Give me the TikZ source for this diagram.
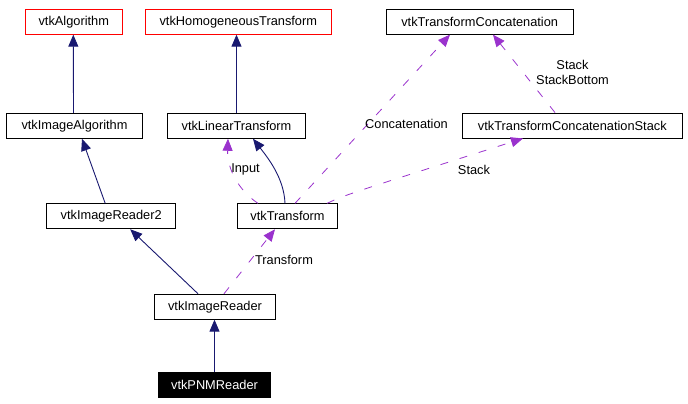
\documentclass[tikz,border=0pt]{standalone}
\usepackage{fontspec}
\setmainfont{Liberation Sans}
\usetikzlibrary{arrows.meta}
\definecolor{edgeblue}{RGB}{25,25,112}
\definecolor{edgepurple}{RGB}{154,50,205}
\begin{document}
\begin{tikzpicture}[x=1pt,y=-1pt,
  cls/.style={draw=black, line width=0.9pt, rectangle, inner sep=0pt, minimum height=25pt, font=\fontsize{12.8}{15}\selectfont},
  ext/.style={cls, draw=red},
  cur/.style={cls, fill=black, text=white},
  inh/.style={draw=edgeblue, line width=0.9pt, -{Triangle[length=12pt,width=10pt]}},
  use/.style={draw=edgepurple, line width=0.8pt, dash pattern=on 8pt off 12pt, -{Triangle[length=12pt,width=10pt]}},
  lbl/.style={inner sep=0pt, font=\fontsize{12.8}{15}\selectfont}]
\useasboundingbox (0,0) rectangle (688,404);
% nodes
\node[ext, minimum width=97.7pt]  (A)   at (73.8,21.7)  {vtkAlgorithm};
\node[ext, minimum width=186.7pt] (HT)  at (238.3,21.7) {vtkHomogeneousTransform};
\node[cls, minimum width=187.3pt] (TC)  at (479.7,21.7) {vtkTransformConcatenation};
\node[cls, minimum width=135.6pt] (IA)  at (74.5,125.8) {vtkImageAlgorithm};
\node[cls, minimum width=138.4pt] (LT)  at (236.5,125.8) {vtkLinearTransform};
\node[cls, minimum width=220pt]   (TCS) at (572.3,125.5) {vtkTransformConcatenationStack};
\node[cls, minimum width=129pt]   (IR2) at (111.2,216.3) {vtkImageReader2};
\node[cls, minimum width=100.4pt] (T)   at (287.5,216.3) {vtkTransform};
\node[cls, minimum width=121.4pt] (IR)  at (215,306.7)  {vtkImageReader};
\node[cur, minimum width=112.4pt] (PNM) at (214.5,384.5) {vtkPNMReader};
% inheritance edges
\draw[inh] ([xshift=-1pt]IA.north) -- ([xshift=-0.5pt]A.south);
\draw[inh] (LT.north) -- (LT.north |- HT.south);
\draw[inh] ([xshift=-6pt]IR2.north) -- ([xshift=7.5pt]IA.south);
\draw[inh] ([xshift=-17pt]IR.north) -- ([xshift=19pt]IR2.south);
\draw[inh] (PNM.north) -- (PNM.north |- IR.south);
\draw[inh] ([xshift=-2.5pt]T.north) .. controls (284,178) and (268,158) .. ([xshift=16.5pt]LT.south);
% usage edges
\draw[use] ([xshift=-29.5pt]T.north) .. controls (238,190) and (227,168) .. ([xshift=-8.5pt]LT.south);
\draw[use] ([xshift=7.5pt]T.north) -- ([xshift=-29.7pt]TC.south);
\draw[use] ([xshift=39.5pt]T.north) .. controls (345,195) .. ([xshift=-49.3pt]TCS.south);
\draw[use] ([xshift=-17.3pt]TCS.north) -- ([xshift=13.3pt]TC.south);
\draw[use] ([xshift=9pt]IR.north) -- ([xshift=-12.5pt]T.south);
% labels
\node[lbl] (lInput) at (245.5,169) {Input};
\node[lbl] (lConc)  at (406.5,124) {Concatenation};
\node[lbl] (lStack) at (474,170)   {Stack};
\node[lbl] (lTrans) at (284,260)   {Transform};
\node[lbl, align=center] (lStackB) at (572.5,72.5) {Stack\\StackBottom};
\end{tikzpicture}
\end{document}
